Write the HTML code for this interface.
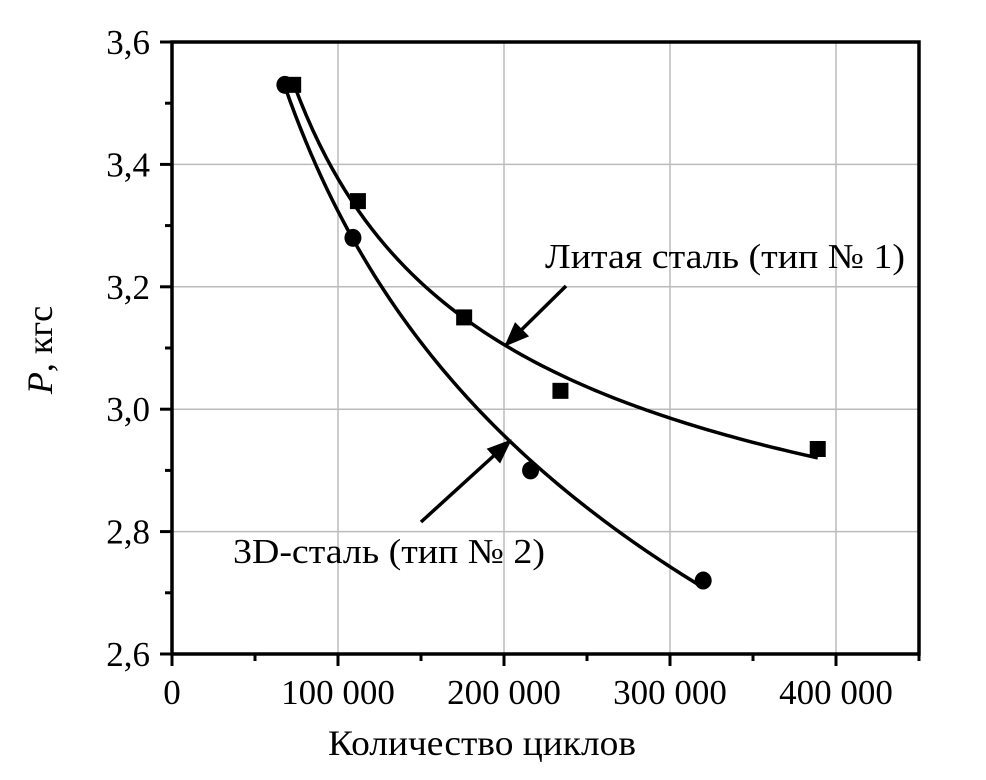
<!DOCTYPE html>
<html><head><meta charset="utf-8"><style>
body{margin:0;background:#fff}
text{font-family:"Liberation Serif",serif;fill:#000}
</style></head><body>
<svg id="c" width="986" height="775" xmlns="http://www.w3.org/2000/svg"></svg>
<script>
const xTicks=[0,100000,200000,300000,400000];
const xTickLabels=["0","100 000","200 000","300 000","400 000"];
const yTicks=[2.6,2.8,3.0,3.2,3.4,3.6];
const yTickLabels=["2,6","2,8","3,0","3,2","3,4","3,6"];
const castX=[73000,112000,176000,234000,389000];
const castY=[3.53,3.34,3.15,3.03,2.935];
const printX=[68000,109000,216000,320000];
const printY=[3.53,3.28,2.9,2.72];
const L=172,R=919,T=42,B=654,XMAX=450000;
const sx=v=>L+v/XMAX*(R-L);
const sy=v=>B-(v-2.6)/1.0*(B-T);
const svg=document.getElementById('c');
const NS='http://www.w3.org/2000/svg';
function mk(t,a,p){const e=document.createElementNS(NS,t);for(const k in a)e.setAttribute(k,a[k]);(p||svg).appendChild(e);return e;}
xTicks.forEach((v,i)=>{if(i>0){const g=mk('line',{x1:sx(v),x2:sx(v),y1:T,y2:B,stroke:'#bbb','stroke-width':1.5});

}});
yTicks.forEach((v,i)=>{if(i>0&&i<yTicks.length-1){const g=mk('line',{x1:L,x2:R,y1:sy(v),y2:sy(v),stroke:'#bbb','stroke-width':1.5});

}});
const fr=mk('rect',{x:L,y:T,width:R-L,height:B-T,fill:'none',stroke:'#000','stroke-width':3.5});


xTicks.forEach((v,i)=>{const t=mk('line',{x1:sx(v),x2:sx(v),y1:B,y2:B+12,stroke:'#000','stroke-width':3});


const m=mk('line',{x1:sx(v+50000),x2:sx(v+50000),y1:B,y2:B+7,stroke:'#000','stroke-width':3});


const lb=mk('text',{x:sx(v),y:B+50,'font-size':35,'text-anchor':'middle'});lb.textContent=xTickLabels[i];

});
yTicks.forEach((v,i)=>{const t=mk('line',{x1:L-12,x2:L,y1:sy(v),y2:sy(v),stroke:'#000','stroke-width':3});


if(i<yTicks.length-1){const m=mk('line',{x1:L-7,x2:L,y1:sy(v+0.1),y2:sy(v+0.1),stroke:'#000','stroke-width':3});

}
const lb=mk('text',{x:L-22,y:sy(v)+12,'font-size':35,'text-anchor':'end'});lb.textContent=yTickLabels[i];

});
// linear least squares of y against a transform g(x): y = a + b*g(x)
function fit(xs,ys,g){const n=xs.length;let sX=0,sY=0,sXX=0,sXY=0;
xs.forEach((x,i)=>{const u=g(x),v=ys[i];sX+=u;sY+=v;sXX+=u*u;sXY+=u*v;});
const b=(n*sXY-sX*sY)/(n*sXX-sX*sX);const a=(sY-b*sX)/n;return x=>a+b*g(x);}
function trend(xs,ys,g){const f=fit(xs,ys,g);const x0=Math.min(...xs),x1=Math.max(...xs);let d='';
for(let k=0;k<=80;k++){const x=x0+(x1-x0)*k/80;d+=(k?' L':'M')+sx(x).toFixed(2)+','+sy(f(x)).toFixed(2);}return d;}
const c1=mk('path',{d:trend(castX,castY,x=>1/Math.sqrt(x)),fill:'none',stroke:'#000','stroke-width':3.5});


const c2=mk('path',{d:trend(printX,printY,x=>Math.log(x)),fill:'none',stroke:'#000','stroke-width':3.5});


castX.forEach((x,i)=>{const r=mk('rect',{x:sx(x)-8,y:sy(castY[i])-8,width:16,height:16,fill:'#000'});

});
printX.forEach((x,i)=>{const r=mk('ellipse',{cx:sx(x),cy:sy(printY[i]),rx:8.5,ry:9,fill:'#000'});

});
mk('defs',{}).innerHTML='<marker id="ah" markerWidth="26" markerHeight="20" refX="9" refY="4" orient="auto" markerUnits="userSpaceOnUse" viewBox="0 0 10 8"><path d="M0,0 L10,4 L0,8z"/></marker>';
const a1=mk('line',{x1:566,y1:286,x2:506,y2:345,stroke:'#000','stroke-width':3.5,'marker-end':'url(#ah)'});


const a2=mk('line',{x1:421,y1:522,x2:510,y2:441,stroke:'#000','stroke-width':3.5,'marker-end':'url(#ah)'});


</script>
<svg width="986" height="775" style="position:absolute;left:0;top:0" xmlns="http://www.w3.org/2000/svg">
<text x="545" y="268" font-size="35" textLength="360" lengthAdjust="spacingAndGlyphs">Литая сталь (тип № 1)</text>
<text x="233" y="563" font-size="35" textLength="312" lengthAdjust="spacingAndGlyphs">3D-сталь (тип № 2)</text>
<text x="328" y="755" font-size="36" textLength="308" lengthAdjust="spacingAndGlyphs">Количество циклов</text>
<text transform="translate(52,350) rotate(-90)" font-size="36" text-anchor="middle"><tspan font-style="italic">P</tspan>, кгс</text>
</svg>
</body></html>
